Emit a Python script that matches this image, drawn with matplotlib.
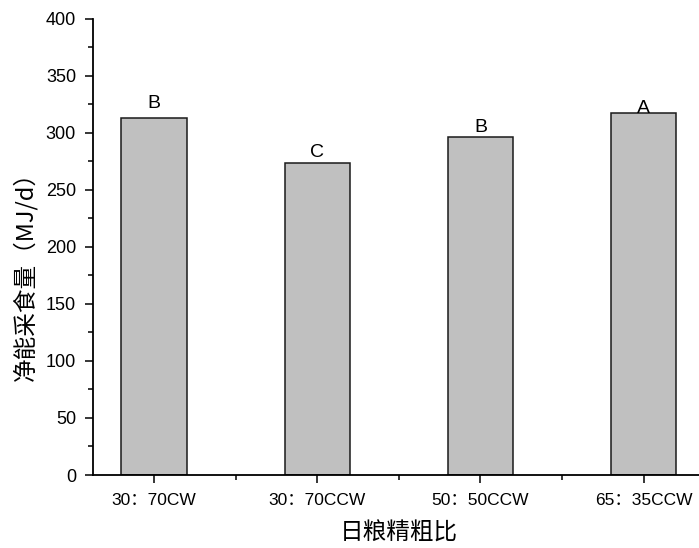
import matplotlib
matplotlib.use("Agg")
import matplotlib.pyplot as plt
from matplotlib.ticker import MultipleLocator, FixedLocator

# data
groups = ["30：70CW", "30：70CCW", "50：50CCW", "65：35CCW"]
intake = [313.2, 273.2, 296.6, 317.5]
letters = ["B", "C", "B", "A"]

# how far above each bar top the significance letter sits (data units)
letter_gap = [8.3, 5.8, 4.4, 0.0]

latin_cjk = ["Liberation Sans", "Noto Sans CJK SC", "DejaVu Sans"]
cjk = ["Noto Sans CJK SC", "DejaVu Sans"]

fig = plt.figure(figsize=(6.99, 5.48), dpi=100)
W, H = 699, 548
# axes box in pixels: left 92.7, right ~705 (runs past the edge), y0=475, y400=18.6
ax = fig.add_axes([92.7 / W, (H - 475) / H, (705 - 92.7) / W, (475 - 18.6) / H])

x = list(range(1, len(groups) + 1))
ax.bar(x, intake, width=0.4, color="#C0C0C0", edgecolor="#1a1a1a", linewidth=1.1, zorder=2)

for xi, v, lab, gap in zip(x, intake, letters, letter_gap):
    ax.text(xi, v + gap, lab, ha="center", va="baseline", fontsize=14,
            family=latin_cjk, color="black")

ax.set_xlim(0.625, 4.375)
ax.set_ylim(0, 400)

ax.set_xticks(x)
ax.set_xticklabels(groups, family=latin_cjk, fontsize=12.5)
ax.xaxis.set_minor_locator(FixedLocator([1.5, 2.5, 3.5]))
ax.yaxis.set_major_locator(MultipleLocator(50))
ax.yaxis.set_minor_locator(MultipleLocator(25))
for lbl in ax.get_yticklabels():
    lbl.set_family(latin_cjk)
    lbl.set_fontsize(13)

ax.tick_params(axis="both", which="major", direction="out", length=6, width=1.1)
ax.tick_params(axis="both", which="minor", direction="out", length=3.5, width=1.1)
ax.tick_params(axis="y", which="major", pad=6)
ax.tick_params(axis="x", which="major", pad=7)

for side in ["top", "right"]:
    ax.spines[side].set_visible(False)
for side in ["left", "bottom"]:
    ax.spines[side].set_linewidth(1.3)

ax.set_ylabel("净能采食量（MJ/d）", family=cjk, fontsize=17)
ax.set_xlabel("日粮精粗比", family=cjk, fontsize=17)
ax.yaxis.set_label_coords(-0.09, 0.447)
ax.xaxis.set_label_coords(0.5, -0.103)

fig.savefig("out.png", dpi=100)
